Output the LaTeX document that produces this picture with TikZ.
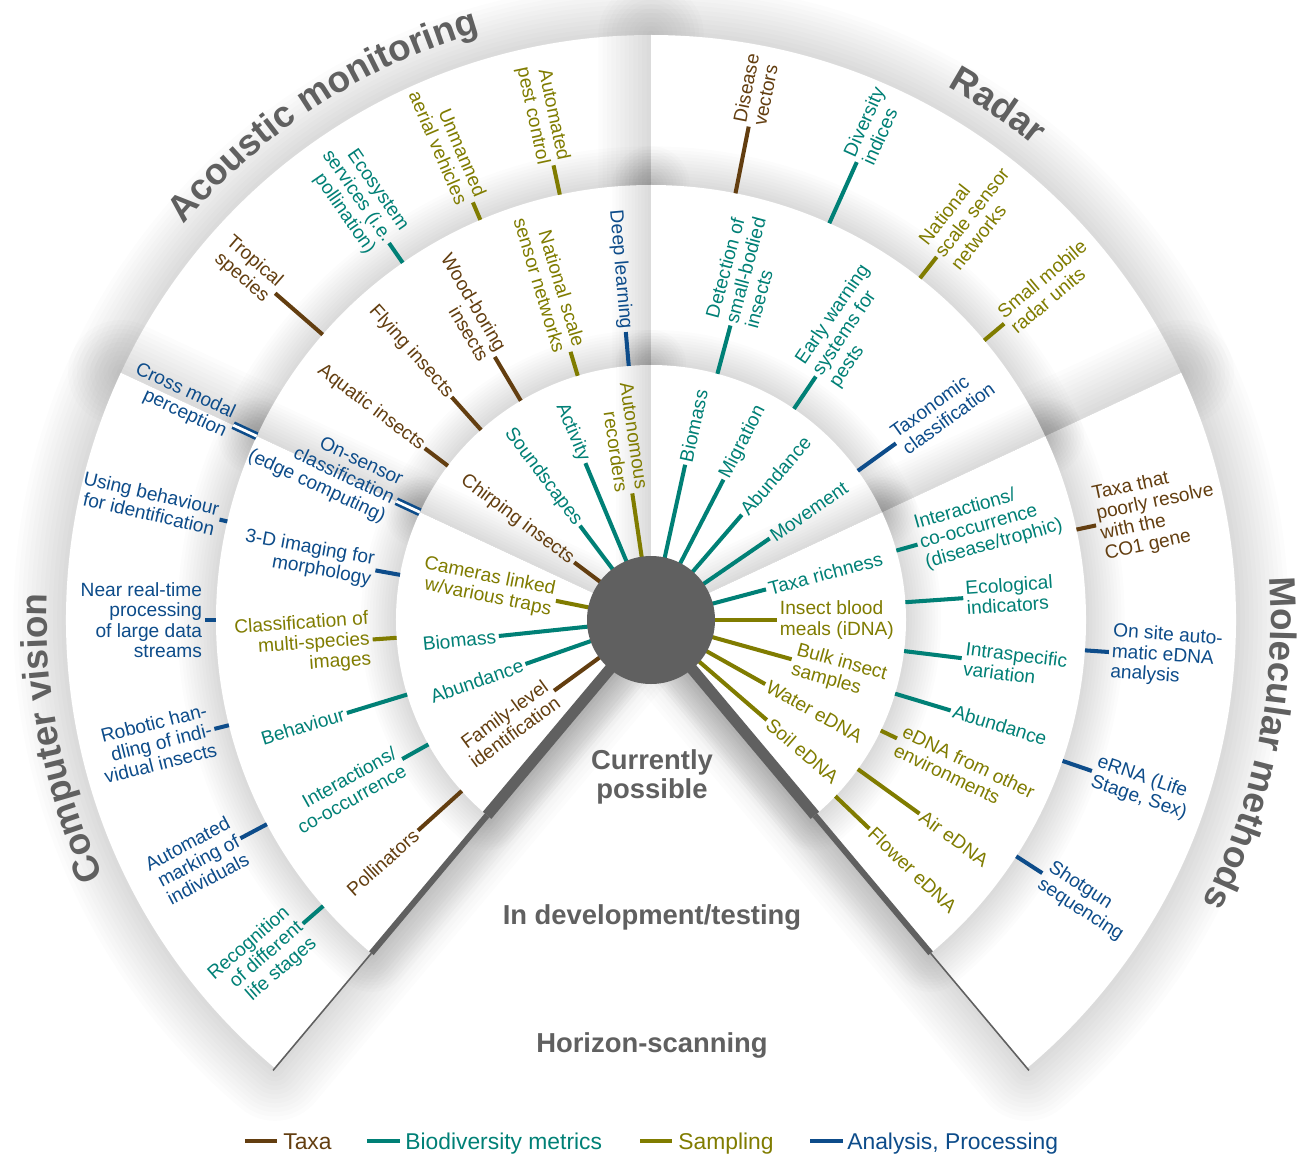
\documentclass[tikz,border=0pt]{standalone}
\usepackage{fontspec}
\setmainfont{Liberation Sans}
\usetikzlibrary{decorations.text}
\definecolor{cltaxa}{RGB}{99,62,16}
\definecolor{clmetric}{RGB}{0,128,118}
\definecolor{clsample}{RGB}{128,124,0}
\definecolor{clproc}{RGB}{13,76,138}
\definecolor{clgray}{RGB}{96,96,96}
\newcommand\titlefont{\fontsize{21}{25}\selectfont\bfseries}
% angle, inner radius, outer radius, colour, name, text
\newcommand\spoke[6]{%
  \coordinate (#5-in) at (#1:#2);
  \coordinate (#5-out) at (#1:#3);
  \ifdim #1pt>90pt
    \node[lbl,#4,anchor=east,align=right,rotate=#1-180] (#5) at (#5-out) {#6};
    \draw[tick,#4] (#5-in) -- (#5.east);
  \else
    \node[lbl,#4,anchor=west,align=left,rotate=#1] (#5) at (#5-out) {#6};
    \draw[tick,#4] (#5-in) -- (#5.west);
  \fi}

\begin{document}
\begin{tikzpicture}[x=0.02cm,y=0.02cm,
  lbl/.style={font={\fontsize{10.9}{11.6}\selectfont},inner sep=1.5pt},
  tick/.style={line width=2.3pt},
  twin/.style={double=white,double distance=1.6pt,line width=1.5pt},
  pieshadow/.style={draw=black,line join=round,opacity=0.012},
  cutline/.style={clgray,line width=#1},
  stage/.style={font={\fontsize{15.6}{16.8}\selectfont\bfseries},text=clgray,align=center},
  legend/.style={font={\fontsize{13}{15}\selectfont},anchor=base west,inner sep=0pt}]
  \useasboundingbox (-651,-533) rectangle (649,620);
  \coordinate (O) at (0,0);

  % stacked sectors with soft shadows
  \foreach \rad/\spread in {585/60,435/44,255/40}
    \foreach \angA/\angB in {90/155,25/90,-50/25,155/230} {
      \foreach \k [evaluate=\k as \lw using \k*\spread/12] in {1,...,12}
        \draw[pieshadow,line width=\lw pt] (O) -- (\angA:\rad) arc[start angle=\angA,end angle=\angB,radius=\rad] -- cycle;
      \fill[white] (O) -- (\angA:\rad) arc[start angle=\angA,end angle=\angB,radius=\rad] -- cycle;
    }

  \coordinate (lcut1) at (230:255);
  \coordinate (lcut2) at (230:435);
  \coordinate (lcut3) at (230:588);
  \coordinate (rcut1) at (-50:255);
  \coordinate (rcut2) at (-50:435);
  \coordinate (rcut3) at (-50:588);
  \draw[cutline=6.3pt] (O) -- (lcut1);
  \draw[cutline=3.4pt] (lcut1) -- (lcut2);
  \draw[cutline=0.9pt] (lcut2) -- (lcut3);
  \draw[cutline=6.3pt] (O) -- (rcut1);
  \draw[cutline=3.4pt] (rcut1) -- (rcut2);
  \draw[cutline=0.9pt] (rcut2) -- (rcut3);

  % currently possible
  \spoke{98.4}{60}{128}{clsample}{autorec}{Autonomous\\recorders}
  \spoke{112.7}{60}{170}{clmetric}{activity}{Activity}
  \spoke{127}{60}{118}{clmetric}{soundsc}{Soundscapes}
  \spoke{143.1}{60}{96}{cltaxa}{chirp}{Chirping insects}
  \spoke{168.6}{60}{97}{clsample}{camtrap}{Cameras linked\\w/various traps}
  \spoke{186}{60}{153}{clmetric}{cvbiomass}{Biomass}
  \spoke{199.3}{60}{133}{clmetric}{cvabund}{Abundance}
  \spoke{216.1}{60}{120}{cltaxa}{family}{Family-level\\identification}
  \spoke{77.6}{60}{159}{clmetric}{rdbiomass}{Biomass}
  \spoke{62.7}{60}{158}{clmetric}{migration}{Migration}
  \spoke{49.2}{60}{139}{clmetric}{rdabund}{Abundance}
  \spoke{34.5}{60}{144}{clmetric}{movement}{Movement}
  \spoke{14.9}{60}{119}{clmetric}{richness}{Taxa richness}
  \spoke{0}{60}{126}{clsample}{blood}{Insect blood\\meals (iDNA)}
  \spoke{-15.6}{60}{146}{clsample}{bulk}{Bulk insect\\samples}
  \spoke{-29.3}{60}{131}{clsample}{water}{Water eDNA}
  \spoke{-40.8}{60}{153}{clsample}{soil}{Soil eDNA}

  % in development
  \spoke{95}{255}{289}{clproc}{deeplearn}{Deep learning}
  \spoke{106.7}{255}{280}{clsample}{acnational}{National scale\\sensor networks}
  \spoke{120.7}{255}{306}{cltaxa}{woodbore}{Wood-boring\\insects}
  \spoke{131.8}{255}{299}{cltaxa}{flying}{Flying insects}
  \spoke{142.8}{255}{284}{cltaxa}{aquatic}{Aquatic insects}
  \spoke{155}{255}{281}{clproc,twin}{onsensor}{On-sensor\\classification\\(edge computing)}
  \spoke{74.9}{255}{305}{clmetric}{smallbody}{Detection of\\small-bodied\\insects}
  \spoke{55.9}{255}{294}{clmetric}{warning}{Early warning\\systems for\\pests}
  \spoke{35.8}{255}{302}{clproc}{taxonomic}{Taxonomic\\classification}
  \spoke{15.8}{255}{277}{clmetric}{mminteract}{Interactions/\\co-occurrence\\(disease/trophic)}
  \spoke{4}{255}{313}{clmetric}{ecoind}{Ecological\\indicators}
  \spoke{-7}{255}{313}{clmetric}{intraspec}{Intraspecific\\variation}
  \spoke{-16.8}{255}{313}{clmetric}{mmabund}{Abundance}
  \spoke{-25.7}{255}{273}{clsample}{otherenv}{eDNA from other\\environments}
  \spoke{-35.8}{255}{331}{clsample}{air}{Air eDNA}
  \spoke{-43.7}{255}{302}{clsample}{flower}{Flower eDNA}
  \spoke{169.8}{255}{280}{clproc}{imaging}{3-D imaging for\\morphology}
  \spoke{184}{255}{279}{clsample}{multispec}{Classification of\\multi-species\\images}
  \spoke{197}{255}{318}{clmetric}{behaviour}{Behaviour}
  \spoke{209.2}{255}{285}{clmetric}{cvinteract}{Interactions/\\co-occurrence}
  \spoke{222.1}{255}{314}{cltaxa}{pollin}{Pollinators}

  % horizon
  \spoke{102.1}{435}{465}{clsample}{pestctl}{Automated\\pest control}
  \spoke{113.1}{435}{454}{clsample}{uav}{Unmanned\\aerial vehicles}
  \spoke{124.8}{435}{459}{clmetric}{ecoserv}{Ecosystem\\services (i.e.\\pollination)}
  \spoke{139}{435}{498}{cltaxa}{tropical}{Tropical\\species}
  \spoke{155}{435}{461}{clproc,twin}{crossmodal}{Cross modal\\perception}
  \spoke{78.8}{435}{503}{cltaxa}{vectors}{Disease\\vectors}
  \spoke{65.8}{435}{502}{clmetric}{diversity}{Diversity\\indices}
  \spoke{51.8}{435}{462}{clsample}{rdnational}{National\\scale sensor\\networks}
  \spoke{40}{435}{461}{clsample}{mobile}{Small mobile\\radar units}
  \spoke{12}{435}{455}{cltaxa}{co1}{Taxa that\\poorly resolve\\with the\\CO1 gene}
  \spoke{-4}{435}{459}{clproc}{onsite}{On site auto-\\matic eDNA\\analysis}
  \spoke{-18.9}{435}{466}{clproc}{erna}{eRNA (Life\\Stage, Sex)}
  \spoke{-32.9}{435}{466}{clproc}{shotgun}{Shotgun\\sequencing}
  \spoke{166.9}{435}{443}{clproc}{usebehav}{Using behaviour\\for identification}
  \spoke{180}{435}{446}{clproc}{realtime}{Near real-time\\processing\\of large data\\streams}
  \spoke{194}{435}{450}{clproc}{robotic}{Robotic han-\\dling of indi-\\vidual insects}
  \spoke{208}{435}{465}{clproc}{marking}{Automated\\marking of\\individuals}
  \spoke{221.1}{435}{462}{clmetric}{lifestage}{Recognition\\of different\\life stages}

  \fill[clgray] (O) circle (64);

  \node[stage] (now) at (1,-157) {Currently\\possible};
  \node[stage] (dev) at (1,-297) {In development/testing};
  \node[stage] (scan) at (1,-425) {Horizon-scanning};

  \path[decorate,decoration={text along path,text align=center,text color=clgray,
    text={|\titlefont|Acoustic monitoring}}] (150:612) arc[start angle=150,end angle=96,radius=612];
  \path[decorate,decoration={text along path,text align=center,text color=clgray,
    text={|\titlefont|Radar}}] (66:610) arc[start angle=66,end angle=46,radius=610];
  \path[decorate,decoration={text along path,text align=center,text color=clgray,
    text={|\titlefont|Molecular methods}}] (10:620) arc[start angle=10,end angle=-33.2,radius=620];
  \path[decorate,decoration={text along path,text align=center,text color=clgray,
    text={|\titlefont|Computer vision}}] (211.3:604) arc[start angle=211.3,end angle=171.3,radius=604];

  \coordinate (lgtaxa-mark) at (-406,-521);
  \coordinate (lgmetric-mark) at (-284,-521);
  \coordinate (lgsample-mark) at (-11,-521);
  \coordinate (lgproc-mark) at (159,-521);
  \node[legend,cltaxa] (lgtaxa) at (-368,-529) {Taxa};
  \node[legend,clmetric] (lgmetric) at (-246,-529) {Biodiversity metrics};
  \node[legend,clsample] (lgsample) at (27,-529) {Sampling};
  \node[legend,clproc] (lgproc) at (196,-529) {Analysis, Processing};
  \draw[tick,cltaxa] (lgtaxa-mark) -- ++(32,0);
  \draw[tick,clmetric] (lgmetric-mark) -- ++(33,0);
  \draw[tick,clsample] (lgsample-mark) -- ++(32,0);
  \draw[tick,clproc] (lgproc-mark) -- ++(33,0);
\end{tikzpicture}
\end{document}
